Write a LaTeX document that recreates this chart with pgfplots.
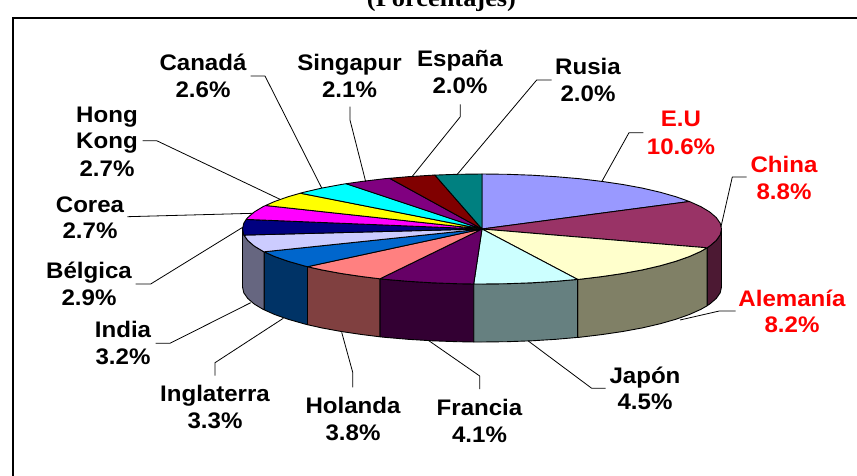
\documentclass[border=0pt]{standalone}
\usepackage{fontspec}
\usepackage{pgfplots}
\pgfplotsset{compat=1.18}
\newfontfamily\labfont[FakeStretch=1.07]{Liberation Sans}
\newfontfamily\ttlfont[FakeStretch=1.1]{Liberation Serif}
\definecolor{cEU}{HTML}{9999FF}
\definecolor{cCN}{HTML}{993366}
\definecolor{cDE}{HTML}{FFFFCC}
\definecolor{cJP}{HTML}{CCFFFF}
\definecolor{cFR}{HTML}{660066}
\definecolor{cNL}{HTML}{FF8080}
\definecolor{cUK}{HTML}{0066CC}
\definecolor{cIN}{HTML}{CCCCFF}
\definecolor{cBE}{HTML}{000080}
\definecolor{cKR}{HTML}{FF00FF}
\definecolor{cHK}{HTML}{FFFF00}
\definecolor{cCA}{HTML}{00FFFF}
\definecolor{cSG}{HTML}{800080}
\definecolor{cES}{HTML}{800000}
\definecolor{cRU}{HTML}{008080}
\definecolor{wCN}{HTML}{4C1933}
\definecolor{wDE}{HTML}{808066}
\definecolor{wJP}{HTML}{668080}
\definecolor{wFR}{HTML}{330033}
\definecolor{wNL}{HTML}{804040}
\definecolor{wUK}{HTML}{003366}
\definecolor{wIN}{HTML}{666680}
\newcommand{\lab}[4][black]{\node[anchor=base,inner sep=0pt,text=#1,font=\labfont\fontsize{22.5}{27}\selectfont\bfseries] at (axis cs:#2,#3) {#4};}
\begin{document}
\begin{tikzpicture}
\begin{axis}[
  at={(0,0)},anchor=south west,
  scale only axis,width=857pt,height=476pt,
  xmin=0,xmax=857,ymin=0,ymax=476,y dir=reverse,
  hide axis,
  every axis plot/.append style={mark=none,line join=round,draw=black,line width=0.9pt},
]
% frame
\addplot[line width=2.8pt,line join=miter] coordinates {(13,476)(13,18)(857,18)};
% walls
\addplot[fill=wCN] coordinates {(721.5,229)(720.2,234.8)(716.3,240.4)(709.8,246)(707.1,247.8)(707.1,305.8)(709.8,304)(716.3,298.4)(720.2,292.8)(721.5,287)} --cycle;
\addplot[fill=wDE] coordinates {(707.1,247.8)(700.8,251.4)(689.4,256.5)(675.8,261.3)(660,265.8)(642.3,269.9)(622.8,273.5)(601.8,276.6)(579.4,279.3)(577.6,279.4)(577.6,337.4)(579.4,337.3)(601.8,334.6)(622.8,331.5)(642.3,327.9)(660,323.8)(675.8,319.3)(689.4,314.5)(700.8,309.4)(707.1,305.8)} --cycle;
\addplot[fill=wJP] coordinates {(577.6,279.4)(556,281.3)(531.8,282.8)(507,283.7)(482,284)(473.7,284)(473.7,342)(482,342)(507,341.7)(531.8,340.8)(556,339.3)(577.6,337.4)} --cycle;
\addplot[fill=wFR] coordinates {(473.7,284)(457,283.7)(432.2,282.8)(408,281.3)(384.6,279.3)(379.9,278.8)(379.9,336.8)(384.6,337.3)(408,339.3)(432.2,340.8)(457,341.7)(473.7,342)} --cycle;
\addplot[fill=wNL] coordinates {(379.9,278.8)(362.2,276.6)(341.2,273.5)(321.7,269.9)(307.5,266.7)(307.5,324.7)(321.7,327.9)(341.2,331.5)(362.2,334.6)(379.9,336.8)} --cycle;
\addplot[fill=wUK] coordinates {(307.5,266.7)(304,265.8)(288.2,261.3)(274.6,256.5)(264.1,251.8)(264.1,309.8)(274.6,314.5)(288.2,319.3)(304,323.8)(307.5,324.7)} --cycle;
\addplot[fill=wIN] coordinates {(264.1,251.8)(263.2,251.4)(254.2,246)(247.7,240.4)(244,235.1)(243.8,234.8)(242.5,229)(242.5,287)(243.8,292.8)(244,293.1)(247.7,298.4)(254.2,304)(263.2,309.4)(264.1,309.8)} --cycle;
% top faces
\addplot[fill=cEU] coordinates {(482,229)(482,174)(507,174.3)(531.8,175.2)(556,176.7)(579.4,178.7)(601.8,181.4)(622.8,184.5)(642.3,188.1)(660,192.2)(675.8,196.7)(689.4,201.5)} --cycle;
\addplot[fill=cCN] coordinates {(482,229)(689.4,201.5)(700.8,206.6)(709.8,212)(716.3,217.6)(720.2,223.2)(721.5,229)(720.2,234.8)(716.3,240.4)(709.8,246)(707.1,247.8)} --cycle;
\addplot[fill=cDE] coordinates {(482,229)(707.1,247.8)(700.8,251.4)(689.4,256.5)(675.8,261.3)(660,265.8)(642.3,269.9)(622.8,273.5)(601.8,276.6)(579.4,279.3)(577.6,279.4)} --cycle;
\addplot[fill=cJP] coordinates {(482,229)(577.6,279.4)(556,281.3)(531.8,282.8)(507,283.7)(482,284)(473.7,284)} --cycle;
\addplot[fill=cFR] coordinates {(482,229)(473.7,284)(457,283.7)(432.2,282.8)(408,281.3)(384.6,279.3)(379.9,278.8)} --cycle;
\addplot[fill=cNL] coordinates {(482,229)(379.9,278.8)(362.2,276.6)(341.2,273.5)(321.7,269.9)(307.5,266.7)} --cycle;
\addplot[fill=cUK] coordinates {(482,229)(307.5,266.7)(304,265.8)(288.2,261.3)(274.6,256.5)(264.1,251.8)} --cycle;
\addplot[fill=cIN] coordinates {(482,229)(264.1,251.8)(263.2,251.4)(254.2,246)(247.7,240.4)(244,235.1)} --cycle;
\addplot[fill=cBE] coordinates {(482,229)(244,235.1)(243.8,234.8)(242.5,229)(243.8,223.2)(246.2,219.4)} --cycle;
\addplot[fill=cKR] coordinates {(482,229)(246.2,219.4)(247.7,217.6)(254.2,212)(263.2,206.6)(265.6,205.5)} --cycle;
\addplot[fill=cHK] coordinates {(482,229)(265.6,205.5)(274.6,201.5)(288.2,196.7)(300.4,193.2)} --cycle;
\addplot[fill=cCA] coordinates {(482,229)(300.4,193.2)(304,192.2)(321.7,188.1)(341.2,184.5)(346.1,183.7)} --cycle;
\addplot[fill=cSG] coordinates {(482,229)(346.1,183.7)(362.2,181.4)(384.6,178.7)(389.6,178.3)} --cycle;
\addplot[fill=cES] coordinates {(482,229)(389.6,178.3)(408,176.7)(432.2,175.2)(434.9,175.1)} --cycle;
\addplot[fill=cRU] coordinates {(482,229)(434.9,175.1)(457,174.3)(482,174)} --cycle;
% leader lines
\addplot[line width=0.8pt] coordinates {(250.7,76)(265,76)(321.7,188)};
\addplot[line width=0.8pt] coordinates {(142.7,140.7)(156.7,140.7)(280,199.3)};
\addplot[line width=0.8pt] coordinates {(350,106.7)(350,120)(365.7,181.7)};
\addplot[line width=0.8pt] coordinates {(460.3,104.3)(460.3,116.7)(412,176.7)};
\addplot[line width=0.8pt] coordinates {(551.7,80)(536.7,80)(456.7,175)};
\addplot[line width=0.8pt] coordinates {(127.3,216.7)(253.3,213.3)};
\addplot[line width=0.8pt] coordinates {(135.7,284)(150.7,284)(242.7,227.3)};
\addplot[line width=0.8pt] coordinates {(155.7,343.3)(170,343.3)(250.7,302.7)};
\addplot[line width=0.8pt] coordinates {(215,375.7)(215,362.7)(283.3,318.3)};
\addplot[line width=0.8pt] coordinates {(352.7,387.3)(352.7,372.3)(341.7,332.3)};
\addplot[line width=0.8pt] coordinates {(479.7,389)(479.7,376)(429.3,341)};
\addplot[line width=0.8pt] coordinates {(605.7,388.3)(591.7,388.3)(528.3,341)};
\addplot[line width=0.8pt] coordinates {(735.7,311)(719.3,311)(680,320)};
\addplot[line width=0.8pt] coordinates {(746.7,177)(732.3,177)(721,226.7)};
\addplot[line width=0.8pt] coordinates {(643.3,132.7)(629,132.7)(601.7,181.7)};
% labels
\lab{203}{70.7}{Canadá}\lab{203}{98}{2.6\%}
\lab{107}{122.7}{Hong}\lab{107}{148.7}{Kong}\lab{107}{176}{2.7\%}
\lab{90}{212.7}{Corea}\lab{90}{238.7}{2.7\%}
\lab{89}{278}{Bélgica}\lab{89}{305}{2.9\%}
\lab{123}{337.7}{India}\lab{123}{364.7}{3.2\%}
\lab{215}{401.7}{Inglaterra}\lab{215}{428}{3.3\%}
\lab{353}{413}{Holanda}\lab{353}{440}{3.8\%}
\lab{479.5}{415}{Francia}\lab{479.5}{442}{4.1\%}
\lab{645}{383}{Japón}\lab{645}{409}{4.5\%}
\lab{349.5}{70.7}{Singapur}\lab{349.5}{98}{2.1\%}
\lab{460}{67}{España}\lab{460}{94}{2.0\%}
\lab{588}{75}{Rusia}\lab{588}{102}{2.0\%}
\lab[red]{681}{126.7}{E.U}\lab[red]{681}{154}{10.6\%}
\lab[red]{784}{172}{China}\lab[red]{784}{199}{8.8\%}
\lab[red]{792}{306.7}{Alemanía}\lab[red]{792}{332.7}{8.2\%}
\node[anchor=base,inner sep=0pt,font=\ttlfont\fontsize{24}{28}\selectfont\bfseries] at (axis cs:441.5,6.5) {(Porcentajes)};
\end{axis}
\pgfresetboundingbox
\path[use as bounding box] (0,0) rectangle (857pt,476pt);
\end{tikzpicture}
\end{document}
